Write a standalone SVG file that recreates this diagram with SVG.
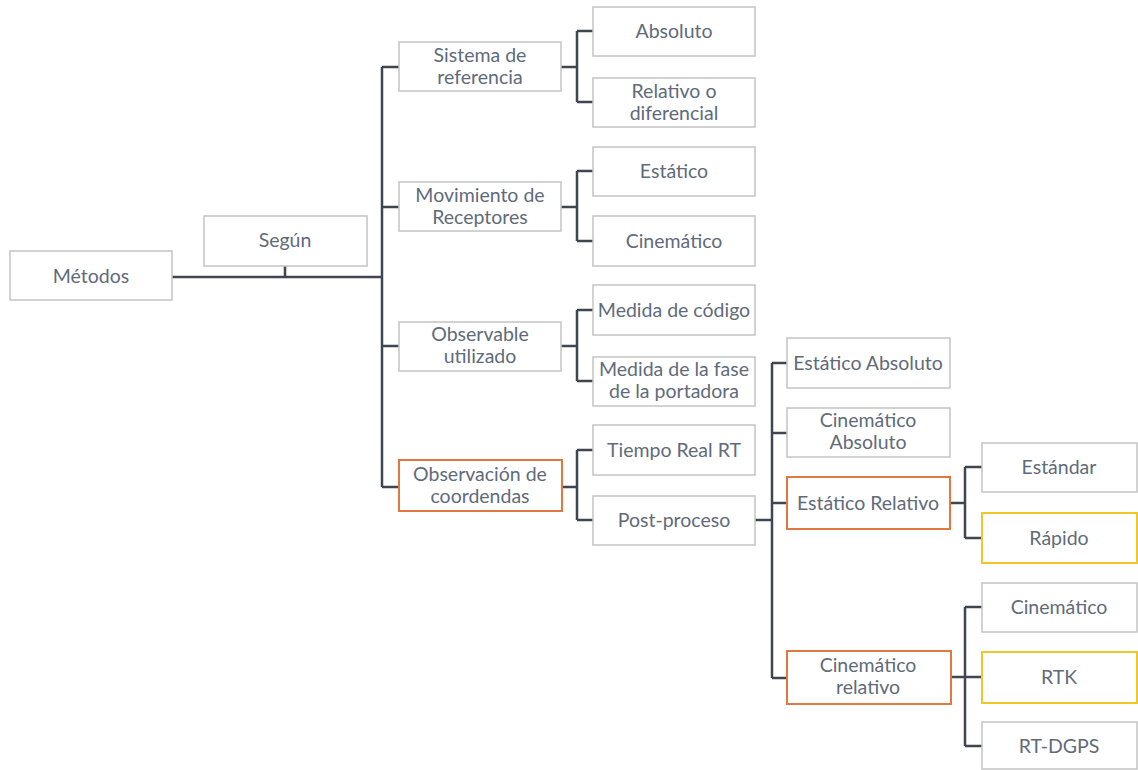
<svg xmlns="http://www.w3.org/2000/svg" width="1138" height="770" viewBox="0 0 1138 770">
<style>
.b{fill:#fff;stroke:#c4c4c4;stroke-width:1.5}
.o{fill:#fff;stroke:#e2773f;stroke-width:2}
.y{fill:#fff;stroke:#f0c629;stroke-width:2}
text{font-family:Lato,"Open Sans",sans-serif;font-size:19.5px;fill:#5f6b7a;text-anchor:middle}
.c{fill:none;stroke:#3f4650;stroke-width:2.5}
</style>
<rect width="1138" height="770" fill="#fff"/>
<g id="connectors">
<path class="c" d="M172 277H382M285 266V277M382 67V487M382 67H399M382 207H399M382 346H399M382 487H399"/>
<path class="c" d="M561 67H577M577 31V102M577 31H593M577 102H593"/>
<path class="c" d="M561 207H577M577 171V241M577 171H593M577 241H593"/>
<path class="c" d="M561 346H577M577 310V381M577 310H593M577 381H593"/>
<path class="c" d="M562 487H577M577 450V520M577 450H593M577 520H593"/>
<path class="c" d="M755 520H772M772 363V678M772 363H787M772 433H787M772 503H787M772 678H787"/>
<path class="c" d="M950 503H965M965 467V538M965 467H982M965 538H982"/>
<path class="c" d="M951 677H965M965 607V746M965 607H982M965 677H982M965 746H982"/>
</g>
<g id="metodos"><rect class="b" x="10" y="251" width="162" height="49"/><text x="91" y="283">Métodos</text></g>
<g id="segun"><rect class="b" x="204" y="216" width="163" height="50"/><text x="285" y="247">Según</text></g>
<g id="sistema"><rect class="b" x="399" y="42" width="162" height="49"/><text x="480" y="62">Sistema de</text><text x="480" y="84">referencia</text></g>
<g id="movimiento"><rect class="b" x="399" y="182" width="162" height="49"/><text x="480" y="202">Movimiento de</text><text x="480" y="224">Receptores</text></g>
<g id="observable"><rect class="b" x="399" y="322" width="162" height="49"/><text x="480" y="341">Observable</text><text x="480" y="363">utilizado</text></g>
<g id="observacion"><rect class="o" x="399" y="460" width="163" height="51"/><text x="480" y="481">Observación de</text><text x="480" y="503">coordendas</text></g>
<g id="absoluto"><rect class="b" x="593" y="7" width="162" height="49"/><text x="674" y="38">Absoluto</text></g>
<g id="relativo"><rect class="b" x="593" y="78" width="162" height="49"/><text x="674" y="98">Relativo o</text><text x="674" y="120">diferencial</text></g>
<g id="estatico"><rect class="b" x="593" y="147" width="162" height="49"/><text x="674" y="178">Estático</text></g>
<g id="cinematico1"><rect class="b" x="593" y="216" width="162" height="50"/><text x="674" y="248">Cinemático</text></g>
<g id="codigo"><rect class="b" x="593" y="285" width="162" height="50"/><text x="674" y="317">Medida de código</text></g>
<g id="fase"><rect class="b" x="593" y="357" width="162" height="49"/><text x="674" y="376">Medida de la fase</text><text x="674" y="398">de la portadora</text></g>
<g id="tiempo"><rect class="b" x="593" y="425" width="162" height="50"/><text x="674" y="457">Tiempo Real RT</text></g>
<g id="post"><rect class="b" x="593" y="496" width="162" height="49"/><text x="674" y="527">Post-proceso</text></g>
<g id="estabs"><rect class="b" x="787" y="338" width="163" height="50"/><text x="868" y="370">Estático Absoluto</text></g>
<g id="cinabs"><rect class="b" x="787" y="408" width="163" height="49"/><text x="868" y="427">Cinemático</text><text x="868" y="449">Absoluto</text></g>
<g id="estrel"><rect class="o" x="787" y="477" width="163" height="52"/><text x="868" y="510">Estático Relativo</text></g>
<g id="cinrel"><rect class="o" x="787" y="651" width="164" height="53"/><text x="868" y="672">Cinemático</text><text x="868" y="694">relativo</text></g>
<g id="estandar"><rect class="b" x="982" y="443" width="155" height="49"/><text x="1059" y="474">Estándar</text></g>
<g id="rapido"><rect class="y" x="982" y="513" width="155" height="50"/><text x="1059" y="545">Rápido</text></g>
<g id="cinematico2"><rect class="b" x="982" y="583" width="155" height="49"/><text x="1059" y="614">Cinemático</text></g>
<g id="rtk"><rect class="y" x="982" y="652" width="155" height="51"/><text x="1059" y="684">RTK</text></g>
<g id="rtdgps"><rect class="b" x="982" y="722" width="155" height="47"/><text x="1059" y="753">RT-DGPS</text></g>
</svg>
